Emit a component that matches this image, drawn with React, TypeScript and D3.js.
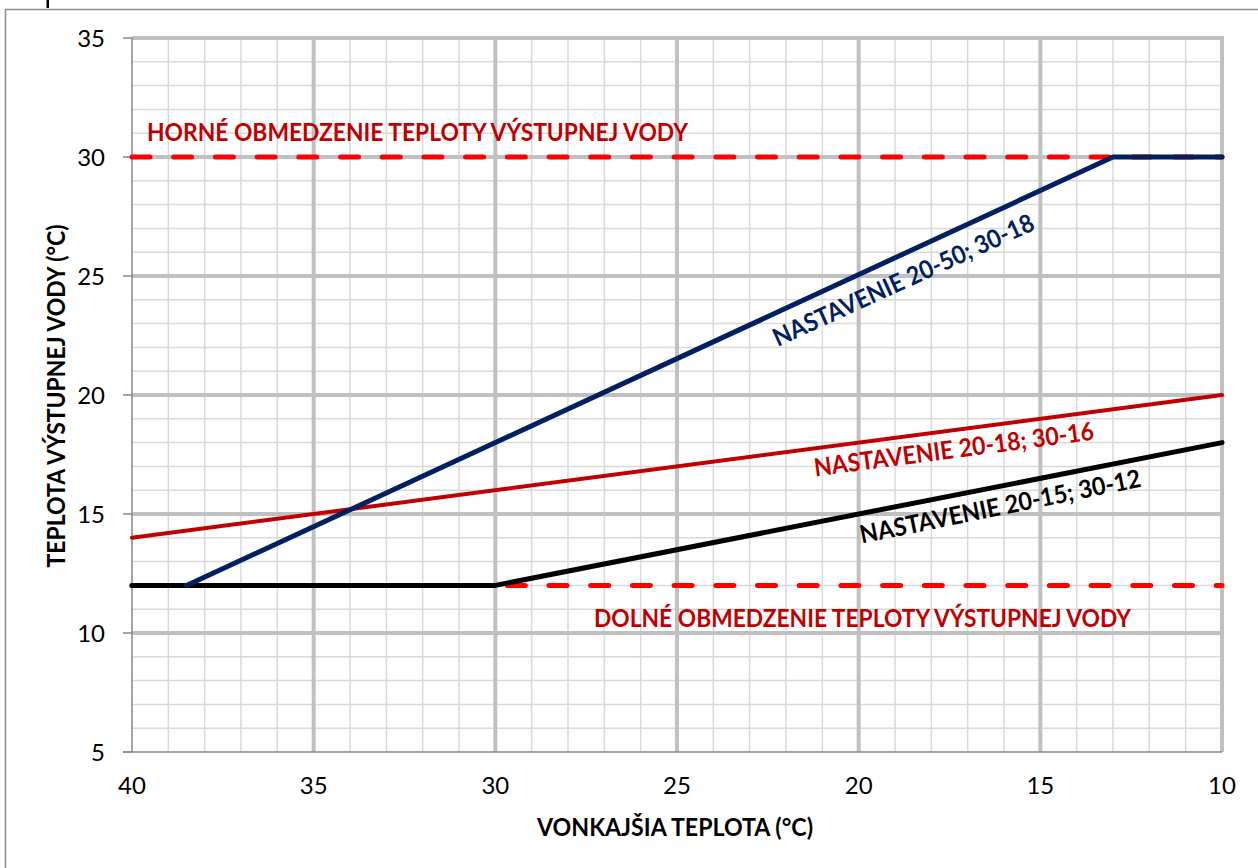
import React from "react";
import * as d3 from "d3";

const xTicks = [40, 35, 30, 25, 20, 15, 10];
const yTicks = [5, 10, 15, 20, 25, 30, 35];
const xMinor = d3.range(10, 41, 1);
const yMinor = d3.range(5, 36, 1);

const blueX = [38.5, 13, 10];
const blueY = [12, 30, 30];
const redX = [40, 10];
const redY = [14, 20];
const blackX = [40, 30, 10];
const blackY = [12, 12, 18];
const upperLimit = 30;
const lowerLimit = 12;

const W = 1258;
const H = 868;
const FONT = "Lato, 'Open Sans', sans-serif";

export default function App() {
  const x = d3.scaleLinear().domain([40, 10]).range([132, 1222]);
  const y = d3.scaleLinear().domain([5, 35]).range([752, 38]);
  const line = d3
    .line<[number, number]>()
    .x((d) => x(d[0]))
    .y((d) => y(d[1]));
  const pts = (xs: number[], ys: number[]) =>
    xs.map((v, i) => [v, ys[i]] as [number, number]);

  const x0 = x(40);
  const x1 = x(10);
  const yTop = y(35);
  const yBot = y(5);

  return (
    <svg
      width={W}
      height={H}
      style={{ position: "absolute", left: 0, top: 0, background: "#fff" }}
    >
      <rect x={0} y={0} width={W} height={H} fill="#fff" />
      {/* clipped fragment of a glyph above the frame */}
      <rect x={46.5} y={0} width={2.5} height={8} fill="#000" />
      {/* outer frame */}
      <rect
        x={5.5}
        y={9.5}
        width={W + 10}
        height={H + 10}
        fill="none"
        stroke="#8c8c8c"
        strokeWidth={1.5}
      />

      {/* minor grid */}
      {xMinor
        .filter((v) => v % 5 !== 0)
        .map((v) => (
          <line
            key={"xm" + v}
            x1={x(v)}
            x2={x(v)}
            y1={yTop}
            y2={yBot}
            stroke="#d9d9d9"
            strokeWidth={1.5}
          />
        ))}
      {yMinor
        .filter((v) => v % 5 !== 0)
        .map((v) => (
          <line
            key={"ym" + v}
            x1={x0}
            x2={x1}
            y1={y(v)}
            y2={y(v)}
            stroke="#d9d9d9"
            strokeWidth={1.5}
          />
        ))}
      {/* major grid */}
      {xTicks
        .filter((v) => v !== 40)
        .map((v) => (
          <line
            key={"xM" + v}
            x1={x(v)}
            x2={x(v)}
            y1={yTop - 2}
            y2={yBot}
            stroke="#c0c0c0"
            strokeWidth={4}
          />
        ))}
      {yTicks
        .filter((v) => v !== 5)
        .map((v) => (
          <line
            key={"yM" + v}
            x1={x0}
            x2={x1 + 2}
            y1={y(v)}
            y2={y(v)}
            stroke="#c0c0c0"
            strokeWidth={4}
          />
        ))}

      {/* axes */}
      <line x1={x0} x2={x0} y1={yTop} y2={yBot} stroke="#868686" strokeWidth={1.5} />
      <line x1={x0 - 9} x2={x1} y1={yBot} y2={yBot} stroke="#868686" strokeWidth={1.5} />
      {yTicks.map((v) => (
        <line
          key={"yt" + v}
          x1={x0 - 9}
          x2={x0}
          y1={y(v)}
          y2={y(v)}
          stroke="#868686"
          strokeWidth={1.5}
        />
      ))}

      {/* tick labels */}
      {yTicks.map((v) => (
        <text
          key={"yl" + v}
          x={105}
          y={y(v)}
          dy="0.36em"
          textAnchor="end"
          fontSize={24}
          fontFamily={FONT}
          fill="#000"
        >
          {v}
        </text>
      ))}
      {xTicks.map((v) => (
        <text
          key={"xl" + v}
          x={x(v)}
          y={794}
          textAnchor="middle"
          fontSize={24}
          fontFamily={FONT}
          fill="#000"
        >
          {v}
        </text>
      ))}

      {/* limit lines */}
      {[upperLimit, lowerLimit].map((v) => (
        <path
          key={"lim" + v}
          d={line([
            [40, v],
            [10, v],
          ]) as string}
          fill="none"
          stroke="#ff0000"
          strokeWidth={5}
          strokeLinecap="round"
          strokeDasharray="18,23.7"
        />
      ))}

      {/* series */}
      <path
        d={line(pts(redX, redY)) as string}
        fill="none"
        stroke="#c00000"
        strokeWidth={4}
        strokeLinecap="round"
        strokeLinejoin="round"
      />
      <path
        d={line(pts(blackX, blackY)) as string}
        fill="none"
        stroke="#000000"
        strokeWidth={5}
        strokeLinecap="round"
        strokeLinejoin="round"
      />
      <path
        d={line(pts(blueX, blueY)) as string}
        fill="none"
        stroke="#002060"
        strokeWidth={5}
        strokeLinecap="round"
        strokeLinejoin="round"
      />

      {/* annotations */}
      <text
        x={147}
        y={141}
        fontSize={24}
        fontWeight="bold"
        fontFamily={FONT}
        fill="#c00000"
        textLength={541}
        lengthAdjust="spacingAndGlyphs"
      >
        HORNÉ OBMEDZENIE TEPLOTY VÝSTUPNEJ VODY
      </text>
      <text
        x={594}
        y={627}
        fontSize={24}
        fontWeight="bold"
        fontFamily={FONT}
        fill="#c00000"
        textLength={537}
        lengthAdjust="spacingAndGlyphs"
      >
        DOLNÉ OBMEDZENIE TEPLOTY VÝSTUPNEJ VODY
      </text>
      <text
        transform="translate(907,288) rotate(-24.5)"
        textAnchor="middle"
        fontSize={25}
        fontWeight="bold"
        fontFamily={FONT}
        fill="#002060"
        textLength={284}
        lengthAdjust="spacingAndGlyphs"
      >
        NASTAVENIE 20-50; 30-18
      </text>
      <text
        transform="translate(955,458) rotate(-7.5)"
        textAnchor="middle"
        fontSize={25}
        fontWeight="bold"
        fontFamily={FONT}
        fill="#c00000"
        textLength={282}
        lengthAdjust="spacingAndGlyphs"
      >
        NASTAVENIE 20-18; 30-16
      </text>
      <text
        transform="translate(1002,515) rotate(-11.5)"
        textAnchor="middle"
        fontSize={25}
        fontWeight="bold"
        fontFamily={FONT}
        fill="#000000"
        textLength={286}
        lengthAdjust="spacingAndGlyphs"
      >
        NASTAVENIE 20-15; 30-12
      </text>

      {/* axis titles */}
      <text
        x={675}
        y={836}
        textAnchor="middle"
        fontSize={24}
        fontWeight="bold"
        fontFamily={FONT}
        fill="#000"
        textLength={276}
        lengthAdjust="spacingAndGlyphs"
      >
        VONKAJŠIA TEPLOTA (°C)
      </text>
      <text
        transform="translate(65,396) rotate(-90)"
        textAnchor="middle"
        fontSize={24}
        fontWeight="bold"
        fontFamily={FONT}
        fill="#000"
        textLength={343}
        lengthAdjust="spacingAndGlyphs"
      >
        TEPLOTA VÝSTUPNEJ VODY (°C)
      </text>
    </svg>
  );
}
